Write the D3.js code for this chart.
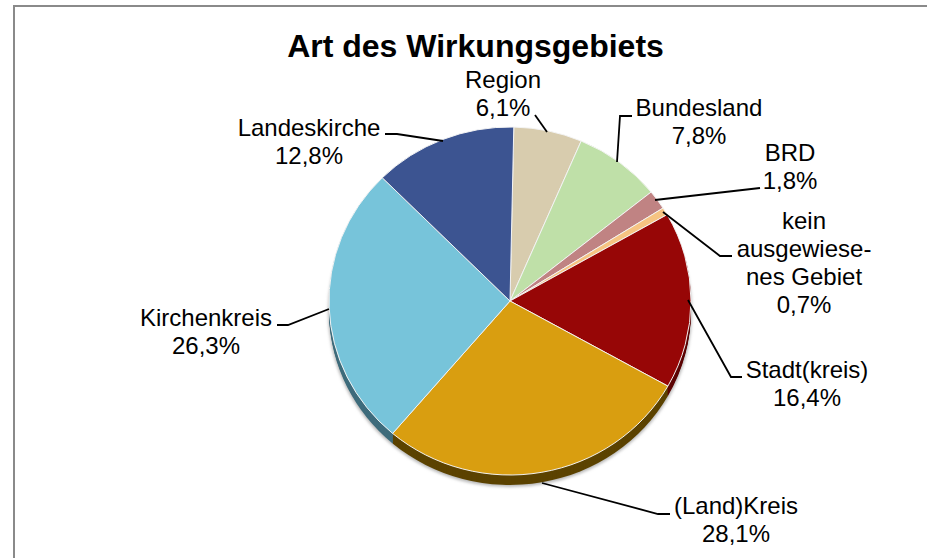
<!DOCTYPE html>
<html>
<head>
<meta charset="utf-8">
<script src="https://cdn.jsdelivr.net/npm/d3@7"></script>
<style>
  html, body { margin: 0; background: #fff; }
  text { font-family: "Liberation Sans", Arial, sans-serif; fill: #000; }
</style>
</head>
<body>
<div id="chart"></div>
<script>
const categories = ["Region", "Bundesland", "BRD", "kein ausgewiesenes Gebiet", "Stadt(kreis)", "(Land)Kreis", "Kirchenkreis", "Landeskirche"];
const values = [6.1, 7.8, 1.8, 0.7, 16.4, 28.1, 26.3, 12.8];
const colors = ["#d8ccae", "#bfe0a8", "#c08383", "#f6c482", "#970606", "#d99e10", "#77c4da", "#3c5491"];
const sideColors = ["#8a8270", "#7d9470", "#7a5050", "#a08050", "#5c0404", "#5c4300", "#3f6c7c", "#26355c"];
const labelLines = [["Region", "6,1%"], ["Bundesland", "7,8%"], ["BRD", "1,8%"], ["kein", "ausgewiese-", "nes Gebiet", "0,7%"], ["Stadt(kreis)", "16,4%"], ["(Land)Kreis", "28,1%"], ["Kirchenkreis", "26,3%"], ["Landeskirche", "12,8%"]];

// label centre x, first baseline y
const labelPos = [[503, 88], [699, 116], [790, 161], [804, 229], [807, 378], [736, 514], [206, 326], [309, 136]];
// leader lines: from near the label to the slice edge
const leaders = [
  [[535, 115], [547, 132]],
  [[632, 116], [620, 116], [617, 162]],
  [[760, 188], [655, 200]],
  [[732, 256], [720, 256], [663, 212]],
  [[742, 377], [731, 377], [688, 300]],
  [[670, 514], [658, 514], [542, 483]],
  [[277, 325], [288, 325], [329, 309]],
  [[385, 134], [397, 134], [443, 141]]
];

const width = 927;
const height = 558;
const cx = 510;
const cy = 301;
const rx = 181;
const ry = 174;
const depth = 10;
const startAngle = 1.2 * Math.PI / 180;

const svg = d3.select("#chart").append("svg")
  .attr("width", width)
  .attr("height", height)
  .style("display", "block");

const defs = svg.append("defs");
const blur = defs.append("filter").attr("id", "soft")
  .attr("x", "-10%").attr("y", "-10%").attr("width", "120%").attr("height", "120%");
blur.append("feGaussianBlur").attr("stdDeviation", 1.5);

// frame, open on the right and at the bottom
svg.append("path")
  .attr("d", "M14,558V6H927")
  .attr("fill", "none")
  .attr("stroke", "#8a8a8a")
  .attr("stroke-width", 2);

svg.append("text")
  .attr("x", 475.5)
  .attr("y", 57)
  .attr("text-anchor", "middle")
  .attr("font-size", 32)
  .attr("font-weight", "bold")
  .text("Art des Wirkungsgebiets");

const pie = d3.pie()
  .value(d => d)
  .sort(null)
  .startAngle(startAngle)
  .endAngle(startAngle + 2 * Math.PI);
const arcs = pie(values);
const arc = d3.arc().innerRadius(0).outerRadius(rx);
const yScale = ry / rx;

// faint shadow around the disc
svg.append("ellipse")
  .attr("cx", cx)
  .attr("cy", cy + depth + 1)
  .attr("rx", rx + 1)
  .attr("ry", ry + 1)
  .attr("fill", "#b8b8b8")
  .attr("filter", "url(#soft)");

// side wall: same wedges stacked downward in darker tints
for (let k = depth; k > 0; k--) {
  svg.append("g")
    .attr("transform", `translate(${cx},${cy + k}) scale(1,${yScale})`)
    .selectAll("path")
    .data(arcs)
    .join("path")
    .attr("d", arc)
    .attr("fill", (d, i) => sideColors[i]);
}

// top face
svg.append("g")
  .attr("transform", `translate(${cx},${cy}) scale(1,${yScale})`)
  .selectAll("path")
  .data(arcs)
  .join("path")
  .attr("d", arc)
  .attr("fill", (d, i) => colors[i])
  .attr("stroke", "#f4f4f4")
  .attr("stroke-width", 1);

// leaders
svg.append("g")
  .selectAll("path")
  .data(leaders)
  .join("path")
  .attr("d", d3.line())
  .attr("fill", "none")
  .attr("stroke", "#000")
  .attr("stroke-width", 1.8);

// labels
const lineGap = 28;
const labels = svg.append("g")
  .selectAll("text")
  .data(labelLines)
  .join("text")
  .attr("text-anchor", "middle")
  .attr("font-size", 24)
  .attr("transform", (d, i) => `translate(${labelPos[i][0]},${labelPos[i][1]})`);

labels.selectAll("tspan")
  .data(d => d)
  .join("tspan")
  .attr("x", 0)
  .attr("y", (d, i) => i * lineGap)
  .text(d => d);
</script>
</body>
</html>
